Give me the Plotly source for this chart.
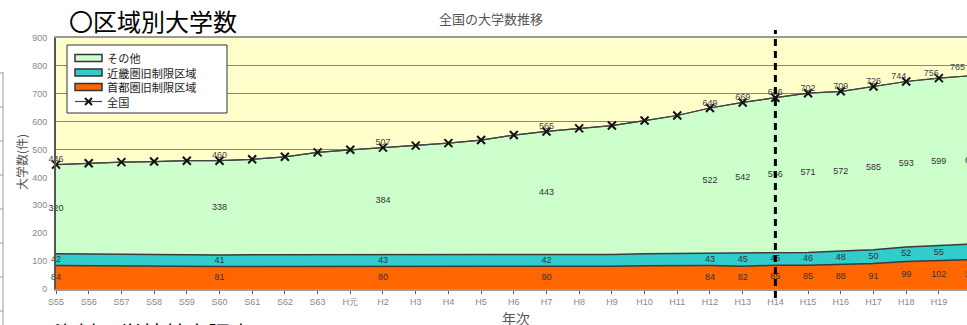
import plotly.graph_objects as go

# 年次（昭和55年〜平成20年）
years = ["S55", "S56", "S57", "S58", "S59", "S60", "S61", "S62", "S63", "H元",
         "H2", "H3", "H4", "H5", "H6", "H7", "H8", "H9", "H10", "H11",
         "H12", "H13", "H14", "H15", "H16", "H17", "H18", "H19", "H20"]

# 全国の大学数
total = [446, 451, 455, 457, 460, 460, 465, 474, 490, 499,
         507, 514, 523, 534, 552, 565, 576, 586, 604, 622,
         649, 669, 686, 702, 709, 726, 744, 756, 765]

# 首都圏旧制限区域
shuto = [84, 83, 83, 82, 82, 81, 81, 81, 81, 80,
         80, 80, 80, 80, 80, 80, 81, 82, 83, 84,
         84, 82, 85, 85, 88, 91, 99, 102, 105]

# 近畿圏旧制限区域
kinki = [42, 42, 41, 41, 41, 41, 42, 42, 43, 43,
         43, 43, 43, 42, 42, 42, 42, 42, 43, 43,
         43, 45, 45, 46, 48, 50, 52, 55, 56]

# その他
sonota = [320, 326, 331, 334, 337, 338, 342, 351, 366, 376,
          384, 391, 400, 412, 430, 443, 453, 462, 478, 495,
          522, 542, 556, 571, 572, 585, 593, 599, 604]

# 値を表示する年次
label_years = ["S55", "S60", "H2", "H7", "H12", "H13", "H14", "H15",
               "H16", "H17", "H18", "H19", "H20"]

# 凡例の項目
legend_names = ["その他", "近畿圏旧制限区域", "首都圏旧制限区域", "全国"]

xs = list(range(len(years)))
lab_idx = [years.index(y) for y in label_years]
last = len(years) - 1            # H20 は描画範囲の右端の外側
in_idx = [i for i in lab_idx if i != last]

JP = "Noto Sans CJK JP"
EDGE = "#3a3a3a"
C_SHUTO, C_KINKI, C_OTHER = "#FF6600", "#33CCCC", "#CCFFCC"
NUM = "Liberation Sans"

# 描画領域（ピクセル）: 左56, 上38, 下289, 幅911
L, T, B, W = 56, 38, 289, 911


def px(xp, yp):
    """ページ上のピクセル位置を paper 座標へ"""
    return (xp - L) / W, (B - yp) / (B - T)


fig = go.Figure()

fig.add_trace(go.Scatter(
    x=xs, y=shuto, stackgroup="s", mode="lines", name="首都圏旧制限区域",
    fillcolor=C_SHUTO, line=dict(color=EDGE, width=1.5), hoverinfo="skip"))
fig.add_trace(go.Scatter(
    x=xs, y=kinki, stackgroup="s", mode="lines", name="近畿圏旧制限区域",
    fillcolor=C_KINKI, line=dict(color=EDGE, width=1.5), hoverinfo="skip"))
fig.add_trace(go.Scatter(
    x=xs, y=sonota, stackgroup="s", mode="lines", name="その他",
    fillcolor=C_OTHER, line=dict(color=EDGE, width=1.2), hoverinfo="skip"))
fig.add_trace(go.Scatter(
    x=xs, y=total, mode="lines+markers", name="全国",
    line=dict(color="#444444", width=1.2),
    marker=dict(symbol="x-thin", size=8, line=dict(color="#111111", width=2)),
    cliponaxis=False, hoverinfo="skip"))

# 各区域の値ラベル（帯の中央）
lab_font = dict(family=NUM, size=9, color="#333333")
bands = [(shuto, []), (kinki, [shuto]), (sonota, [shuto, kinki])]
for vals, lower in bands:
    mids = [sum(s[i] for s in lower) + vals[i] / 2 for i in xs]
    fig.add_trace(go.Scatter(
        x=[xs[i] for i in in_idx], y=[mids[i] for i in in_idx],
        text=[str(vals[i]) for i in in_idx], mode="text", textfont=lab_font,
        cliponaxis=False, hoverinfo="skip"))
    # 右端の外側の年次（一部のみ見える）
    fig.add_annotation(x=1, xref="paper", y=mids[last], yref="y",
                       text=str(vals[last]), showarrow=False, xanchor="center",
                       yanchor="middle", xshift=5, font=lab_font)

# 全国の値ラベル（右端付近は左寄せ）
fig.add_trace(go.Scatter(
    x=[xs[i] for i in in_idx], y=[total[i] for i in in_idx],
    text=[str(total[i]) for i in in_idx], mode="text",
    textposition=["top left" if i >= years.index("H18") else "top center"
                  for i in in_idx],
    textfont=dict(family=NUM, size=9, color="#444444"),
    cliponaxis=False, hoverinfo="skip"))
fig.add_annotation(x=1, xref="paper", y=total[last], yref="y",
                   text=str(total[last]), showarrow=False, xanchor="right",
                   yanchor="bottom", yshift=2,
                   font=dict(family=NUM, size=9, color="#444444"))

# 平成14年の区切り線
fig.add_shape(type="line", xref="x", yref="paper", x0=years.index("H14"),
              x1=years.index("H14"), y0=px(0, 298)[1], y1=px(0, 30)[1],
              line=dict(color="#000000", width=3, dash="7px,5px"))

# 凡例（枠・色見本・文字）
x0, y0 = px(67, 45)
x1, y1 = px(227, 113)
fig.add_shape(type="rect", xref="paper", yref="paper", x0=x0, x1=x1, y0=y1, y1=y0,
              fillcolor="#FFFFFF", line=dict(color="#333333", width=1))
row_y = [58, 72.5, 87, 101.5]
swatches = [C_OTHER, C_KINKI, C_SHUTO, None]
for color, yc in zip(swatches, row_y):
    if color:
        sx0, sy0 = px(75, yc - 3.5)
        sx1, sy1 = px(102, yc + 3.5)
        fig.add_shape(type="rect", xref="paper", yref="paper",
                      x0=sx0, x1=sx1, y0=sy1, y1=sy0, fillcolor=color,
                      line=dict(color="#333333", width=1.5))
    else:
        lx0, ly = px(75, yc)
        lx1, _ = px(102, yc)
        fig.add_shape(type="line", xref="paper", yref="paper",
                      x0=lx0, x1=lx1, y0=ly, y1=ly,
                      line=dict(color="#444444", width=1.2))
        for dy in (-1, 1):
            ax0, ay0 = px(85, yc - 3.5 * dy)
            ax1, ay1 = px(92, yc + 3.5 * dy)
            fig.add_shape(type="line", xref="paper", yref="paper",
                          x0=ax0, x1=ax1, y0=ay0, y1=ay1,
                          line=dict(color="#111111", width=2))
tx, ty = px(106, (row_y[0] + row_y[-1]) / 2)
fig.add_annotation(text="<br>".join(legend_names), xref="paper", yref="paper",
                   x=tx, y=ty, xanchor="left", yanchor="middle", align="left",
                   showarrow=False, borderpad=0,
                   font=dict(family=JP, size=11.2, color="#222222"))

# 左端の縦線と目盛り
lx, _ = px(3, 0)
tx0, _ = px(0, 0)
fig.add_shape(type="line", xref="paper", yref="paper", x0=lx, x1=lx,
              y0=px(0, 330)[1], y1=px(0, 72)[1],
              line=dict(color="#9a9a9a", width=1))
for k in range(8):
    yp = px(0, 73 + 34 * k)[1]
    fig.add_shape(type="line", xref="paper", yref="paper", x0=tx0, x1=lx,
                  y0=yp, y1=yp, line=dict(color="#9a9a9a", width=1))

# 見出し・軸タイトル・出典
ax, ay = px(67, 20)
fig.add_annotation(text="〇区域別大学数", xref="paper", yref="paper",
                   x=ax, y=ay, xanchor="left", yanchor="middle",
                   showarrow=False, font=dict(family=JP, size=24, color="#000000"))
ax, ay = px(491, 18)
fig.add_annotation(text="全国の大学数推移", xref="paper", yref="paper",
                   x=ax, y=ay, xanchor="center", yanchor="middle",
                   showarrow=False, font=dict(family=JP, size=13, color="#555555"))
ax, ay = px(21, 162)
fig.add_annotation(text="大学数(件)", xref="paper", yref="paper",
                   x=ax, y=ay, xanchor="center", yanchor="middle",
                   textangle=-90, showarrow=False,
                   font=dict(family=JP, size=12, color="#555555"))
ax, ay = px(516, 318)
fig.add_annotation(text="年次", xref="paper", yref="paper",
                   x=ax, y=ay, xanchor="center", yanchor="middle",
                   showarrow=False, font=dict(family=JP, size=14, color="#555555"))
ax, ay = px(52, 314)
fig.add_annotation(text="資料：学校基本調査", xref="paper", yref="paper",
                   x=ax, y=ay, xanchor="left", yanchor="top",
                   showarrow=False, font=dict(family=JP, size=22, color="#000000"))

fig.update_layout(
    width=967, height=325,
    margin=dict(l=L, r=967 - L - W, t=T, b=325 - B),
    paper_bgcolor="#FFFFFF", plot_bgcolor="#FFFFCC",
    showlegend=False,
    xaxis=dict(range=[0, 27.86], tickvals=xs, ticktext=years,
               tickfont=dict(family=NUM, size=9, color="#888888"),
               showgrid=False, zeroline=False, showline=True, mirror=True,
               linecolor="#9a9a9a", linewidth=2, ticks="outside", ticklen=3,
               tickcolor="#555555"),
    yaxis=dict(range=[0, 900], dtick=100,
               tickfont=dict(family=NUM, size=9, color="#888888"),
               showgrid=True, gridcolor="#8a8a6a", gridwidth=1.2,
               zeroline=False, showline=True, linecolor="#555555", linewidth=2,
               ticklabelstandoff=5),
)

fig.write_html("out.html")
